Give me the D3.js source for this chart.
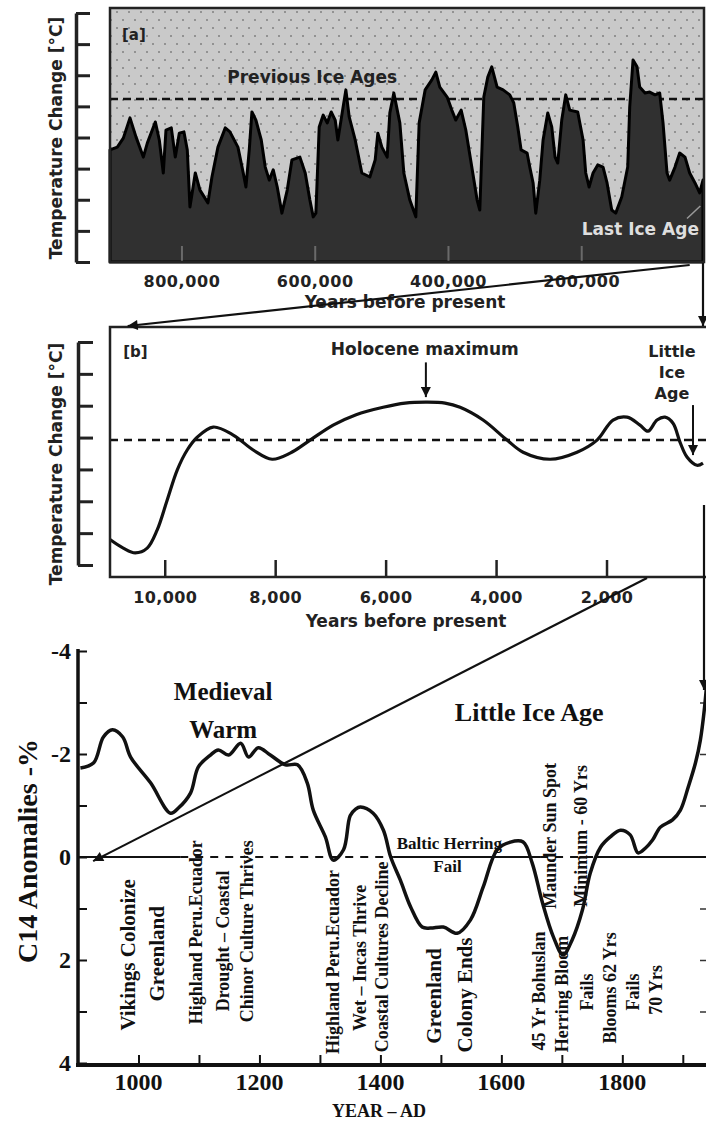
<!doctype html>
<html>
<head>
<meta charset="utf-8">
<title>Temperature history</title>
<script src="https://cdnjs.cloudflare.com/ajax/libs/d3/7.8.5/d3.min.js"></script>
<style>
body { margin: 0; background: #fff; }
svg { display: block; }
.sans { font-family: "DejaVu Sans", Verdana, sans-serif; font-weight: bold; fill: #222; }
.serif { font-family: "Liberation Serif", "Times New Roman", serif; font-weight: bold; fill: #111; }
</style>
</head>
<body>
<svg width="706" height="1123"></svg>
<script>

/* ---- DATA ---- */

// [a] thousands of years before present, temperature in axis tick units
var iceAgeSeries = [[908,3.60],[897,3.69],[888,3.98],[878,4.63],[869,4.02],[858,3.37],[852,3.82],[840,4.50],[834,3.92],[828,2.86],[824,4.24],[816,4.31],[810,3.37],[804,4.14],[797,4.18],[792,3.60],[788,1.77],[780,2.86],[773,2.31],[761,1.90],[755,2.73],[746,3.69],[735,4.31],[728,4.18],[716,3.69],[708,2.86],[704,2.41],[699,3.60],[695,4.82],[689,4.56],[681,3.92],[675,3.05],[669,2.63],[663,2.96],[657,2.41],[650,1.57],[642,2.31],[635,3.28],[623,3.37],[615,2.86],[608,1.99],[603,1.45],[599,1.57],[594,4.34],[588,4.72],[582,4.47],[576,4.82],[570,4.56],[566,3.92],[558,5.00],[554,5.53],[549,4.66],[540,3.92],[530,2.86],[518,2.73],[510,3.28],[506,4.14],[500,3.69],[492,3.37],[488,4.79],[482,5.43],[473,4.47],[467,2.86],[458,1.99],[449,1.45],[444,4.47],[435,5.53],[425,5.85],[419,6.10],[413,5.62],[402,5.30],[395,4.88],[389,4.56],[381,4.88],[374,4.24],[365,3.05],[357,1.99],[353,1.67],[347,5.30],[341,5.94],[335,6.27],[327,5.62],[318,5.53],[308,5.37],[302,5.11],[296,4.34],[291,3.60],[282,3.50],[278,3.05],[273,2.54],[269,1.57],[263,2.63],[258,3.92],[251,4.79],[245,4.34],[240,3.37],[236,3.18],[230,4.56],[224,5.37],[218,4.88],[206,4.82],[198,3.92],[194,2.86],[189,2.41],[183,2.86],[176,3.12],[168,3.05],[162,2.54],[155,1.67],[149,1.57],[140,2.09],[131,3.05],[128,4.98],[123,6.49],[117,6.27],[113,5.62],[105,5.43],[98,5.46],[90,5.37],[83,5.43],[78,4.47],[72,2.86],[68,2.63],[60,3.05],[53,3.50],[45,3.37],[38,2.86],[30,2.54],[23,2.22],[18,2.63]];
var iceAgeRef = 5.24;
var iceAgeTicks = [800, 600, 400, 200];
var iceAgeYTicks = [0, 1, 2, 3, 4, 5, 6, 7, 8];

// [b] years before present, temperature in axis tick units
var holoceneSeries = [[11000,0.80],[10760,0.53],[10543,0.38],[10326,0.53],[10145,1.10],[9964,2.04],[9783,2.98],[9602,3.61],[9421,4.01],[9131,4.33],[8769,4.08],[8407,3.61],[8064,3.32],[7738,3.51],[7376,3.92],[6959,4.39],[6543,4.72],[6054,4.95],[5656,5.08],[5258,5.11],[4932,5.08],[4661,4.95],[4244,4.55],[3810,3.92],[3520,3.54],[3032,3.32],[2543,3.54],[2181,3.92],[1891,4.55],[1638,4.64],[1403,4.39],[1258,4.20],[1095,4.55],[950,4.64],[805,4.45],[679,3.86],[552,3.39],[371,3.13],[262,3.20]];
var holoceneRef = 3.92;
var holoceneTicks = [10000, 8000, 6000, 4000, 2000];
var holoceneYTicks = [0, 1, 2, 3, 4, 5, 6, 7];

// [c] year AD, C14 anomaly in %
var c14Series = [[904,-1.73],[926,-1.83],[942,-2.33],[957,-2.47],[974,-2.33],[987,-1.94],[1020,-1.44],[1053,-0.85],[1066,-0.95],[1086,-1.24],[1099,-1.75],[1119,-1.98],[1132,-2.08],[1149,-1.98],[1169,-2.21],[1182,-1.94],[1198,-2.12],[1218,-1.98],[1243,-1.79],[1263,-1.79],[1279,-1.44],[1289,-0.91],[1309,-0.39],[1322,0.06],[1339,-0.14],[1350,-0.80],[1359,-0.93],[1367,-0.97],[1388,-0.85],[1405,-0.52],[1417,0.00],[1433,0.45],[1450,0.97],[1469,1.36],[1483,1.38],[1504,1.36],[1527,1.48],[1549,1.22],[1570,0.58],[1593,-0.14],[1615,-0.29],[1636,-0.29],[1651,0.12],[1668,0.89],[1686,1.55],[1702,1.90],[1717,1.61],[1734,1.03],[1747,0.31],[1764,-0.19],[1780,-0.39],[1797,-0.52],[1813,-0.43],[1826,-0.08],[1838,-0.17],[1850,-0.33],[1863,-0.58],[1883,-0.72],[1896,-0.91],[1909,-1.36],[1921,-1.83],[1929,-2.27],[1936,-2.91],[1940,-3.44]];
var c14YTicks = [-4, -3, -2, -1, 0, 1, 2, 3, 4];
var c14YLabels = [-4, -2, 0, 2, 4];
var c14XTicks = [1000, 1100, 1200, 1300, 1400, 1500, 1600, 1700, 1800, 1900];
var c14XLabels = [1000, 1200, 1400, 1600, 1800];
var c14RightTicks = [-3, -2, -1, 1, 2, 3];
var zeroDashed = [[1069, 1421], [1664, 1758]];

// vertical event notes, anchored at (year, anomaly) of their centre
var c14NotesLarge = [
  {text: "Vikings Colonize", year: 983, anom: 1.90},
  {text: "Greenland", year: 1031, anom: 1.88},
  {text: "Greenland", year: 1488, anom: 2.70},
  {text: "Colony Ends", year: 1540, anom: 2.68}
];
var c14Notes = [
  {text: "Highland Peru.Ecuador", year: 1096, anom: 1.46},
  {text: "Drought \u2013 Coastal", year: 1139, anom: 1.63},
  {text: "Chinor Culture Thrives", year: 1179, anom: 1.44},
  {text: "Highland Peru.Ecuador", year: 1322, anom: 2.04},
  {text: "Wet \u2013 Incas Thrive", year: 1367, anom: 1.96},
  {text: "Coastal Cultures Decline", year: 1403, anom: 1.94},
  {text: "45 Yr Bohuslan", year: 1663, anom: 2.60},
  {text: "Herring Bloom", year: 1701, anom: 2.66},
  {text: "Maunder Sun Spot", year: 1681, anom: -0.41},
  {text: "Minimum - 60 Yrs", year: 1732, anom: -0.41},
  {text: "Fails", year: 1742, anom: 2.62},
  {text: "Blooms 62 Yrs", year: 1779, anom: 2.54},
  {text: "Fails", year: 1818, anom: 2.62},
  {text: "70 Yrs", year: 1856, anom: 2.58}
];

/* ---- SETUP ---- */

var svg = d3.select("svg");
var defs = svg.append("defs");

var pat = defs.append("pattern").attr("id", "dots")
    .attr("patternUnits", "userSpaceOnUse").attr("width", 12).attr("height", 16);
pat.append("rect").attr("width", 12).attr("height", 16).attr("fill", "#c9c9c9");
pat.append("circle").attr("cx", 3).attr("cy", 4).attr("r", 1).attr("fill", "#808080");
pat.append("circle").attr("cx", 9).attr("cy", 12).attr("r", 1).attr("fill", "#808080");

function marker(id, w, h){
    defs.append("marker").attr("id", id)
        .attr("viewBox", "0 0 10 10").attr("refX", 10).attr("refY", 5)
        .attr("markerWidth", w).attr("markerHeight", h)
        .attr("markerUnits", "userSpaceOnUse").attr("orient", "auto")
        .append("path").attr("d", "M0,0L10,5L0,10z").attr("fill", "#111");
}
marker("arrBig", 16, 10);
marker("arrSmall", 11, 10);

function bracketAxis(g){
    g.selectAll("line").attr("stroke", "#222").attr("stroke-width", 3);
    g.select(".domain").attr("stroke", "#222").attr("stroke-width", 3.5);
}

/* ---- PANEL A ---- */

var ax = d3.scaleLinear().domain([908, 18]).range([110, 703]);
var ay = d3.scaleLinear().domain([0, 8]).range([262, 13]);
var gA = svg.append("g");

gA.append("rect").attr("x", 110).attr("y", 8).attr("width", 594).attr("height", 254)
    .attr("fill", "url(#dots)");

gA.append("line")
    .attr("x1", 110).attr("x2", 704).attr("y1", ay(iceAgeRef)).attr("y2", ay(iceAgeRef))
    .attr("stroke", "#111").attr("stroke-width", 2.5).attr("stroke-dasharray", "8,5");

gA.append("path").datum(iceAgeSeries)
    .attr("d", d3.area().x(d => ax(d[0])).y0(ay(0)).y1(d => ay(d[1])))
    .attr("fill", "#303030").attr("stroke", "#000").attr("stroke-width", 3)
    .attr("stroke-linejoin", "round");

gA.selectAll(".tk").data(iceAgeTicks).enter().append("line")
    .attr("x1", d => ax(d)).attr("x2", d => ax(d)).attr("y1", 246).attr("y2", 262)
    .attr("stroke", "#6a6a6a").attr("stroke-width", 2);

gA.append("rect").attr("x", 110).attr("y", 8).attr("width", 594).attr("height", 254)
    .attr("fill", "none").attr("stroke", "#222").attr("stroke-width", 2.5);

gA.selectAll(".tl").data(iceAgeTicks).enter().append("text")
    .attr("class", "sans").attr("font-size", 16).attr("text-anchor", "middle")
    .attr("letter-spacing", 0.6)
    .attr("x", d => ax(d)).attr("y", 287).text(d => d3.format(",")(d * 1000));

gA.append("text").attr("class", "sans").attr("font-size", 17).attr("text-anchor", "middle")
    .attr("x", 405).attr("y", 308).text("Years before present");

gA.append("g").attr("transform", "translate(76,0)")
    .call(d3.axisRight(ay).tickValues(iceAgeYTicks).tickSize(14).tickSizeOuter(0).tickFormat(""))
    .call(bracketAxis);

gA.append("text").attr("class", "sans").attr("font-size", 17).attr("text-anchor", "middle")
    .attr("transform", "translate(62,138) rotate(-90)").text("Temperature Change [\u00b0C]");

gA.append("text").attr("class", "sans").attr("font-size", 15)
    .attr("x", ax(890)).attr("y", ay(7.13)).text("[a]");
gA.append("text").attr("class", "sans").attr("font-size", 17)
    .attr("x", ax(732)).attr("y", ay(5.75)).text("Previous Ice Ages");
gA.append("text").attr("class", "sans").attr("font-size", 17).style("fill", "#dedede")
    .attr("x", ax(200)).attr("y", ay(0.87)).text("Last Ice Age");
gA.append("line").attr("x1", ax(42)).attr("y1", ay(1.4)).attr("x2", ax(22)).attr("y2", ay(1.8))
    .attr("stroke", "#999").attr("stroke-width", 1.5);

/* ---- PANEL B ---- */

var bx = d3.scaleLinear().domain([11000, 262]).range([110, 703]);
var by = d3.scaleLinear().domain([0, 7]).range([565, 342]);
var gB = svg.append("g");

gB.append("line")
    .attr("x1", 110).attr("x2", 706).attr("y1", by(holoceneRef)).attr("y2", by(holoceneRef))
    .attr("stroke", "#111").attr("stroke-width", 2.5).attr("stroke-dasharray", "8,6");

gB.append("path").datum(holoceneSeries)
    .attr("d", d3.line().x(d => bx(d[0])).y(d => by(d[1])).curve(d3.curveCatmullRom))
    .attr("fill", "none").attr("stroke", "#111").attr("stroke-width", 3.2);

gB.append("path").attr("d", "M708,327H110V577H708")
    .attr("fill", "none").attr("stroke", "#222").attr("stroke-width", 2.5);

gB.selectAll(".tk").data(holoceneTicks).enter().append("line")
    .attr("x1", d => bx(d)).attr("x2", d => bx(d)).attr("y1", 560).attr("y2", 577)
    .attr("stroke", "#222").attr("stroke-width", 2.5);

gB.selectAll(".tl").data(holoceneTicks).enter().append("text")
    .attr("class", "sans").attr("font-size", 16).attr("text-anchor", "middle")
    .attr("letter-spacing", 0.4)
    .attr("x", d => bx(d)).attr("y", 603).text(d => d3.format(",")(d));

gB.append("text").attr("class", "sans").attr("font-size", 17).attr("text-anchor", "middle")
    .attr("x", 406).attr("y", 627).text("Years before present");

gB.append("g").attr("transform", "translate(78,0)")
    .call(d3.axisRight(by).tickValues(holoceneYTicks).tickSize(15).tickSizeOuter(0).tickFormat(""))
    .call(bracketAxis);

gB.append("text").attr("class", "sans").attr("font-size", 17).attr("text-anchor", "middle")
    .attr("transform", "translate(62,464) rotate(-90)").text("Temperature Change [\u00b0C]");

gB.append("text").attr("class", "sans").attr("font-size", 15)
    .attr("x", bx(10760)).attr("y", by(6.52)).text("[b]");
gB.append("text").attr("class", "sans").attr("font-size", 17).attr("text-anchor", "middle")
    .attr("x", bx(5300)).attr("y", by(6.58)).text("Holocene maximum");
gB.append("line").attr("x1", bx(5280)).attr("x2", bx(5280)).attr("y1", by(6.36)).attr("y2", by(5.27))
    .attr("stroke", "#111").attr("stroke-width", 2).attr("marker-end", "url(#arrSmall)");
gB.selectAll(".lia").data(["Little", "Ice", "Age"]).enter().append("text")
    .attr("class", "sans").attr("font-size", 16).attr("text-anchor", "middle")
    .attr("x", bx(824)).attr("y", (d, i) => by(6.52) + i * 21).text(d => d);
gB.append("line").attr("x1", bx(443)).attr("x2", bx(443)).attr("y1", by(5.02)).attr("y2", by(3.45))
    .attr("stroke", "#111").attr("stroke-width", 2).attr("marker-end", "url(#arrSmall)");

/* ---- PANEL C ---- */

var cx = d3.scaleLinear().domain([900, 1940]).range([78, 707]);
var cy = d3.scaleLinear().domain([-4, 4]).range([651, 1063]);
var gC = svg.append("g");

// zero line: solid with dashed stretches
gC.append("line").attr("x1", 78).attr("x2", 706).attr("y1", cy(0)).attr("y2", cy(0))
    .attr("stroke", "#111").attr("stroke-width", 2);
gC.selectAll(".zd").data(zeroDashed).enter().append("line")
    .attr("x1", d => cx(d[0])).attr("x2", d => cx(d[1])).attr("y1", cy(0)).attr("y2", cy(0))
    .attr("stroke", "#fff").attr("stroke-width", 4);
gC.selectAll(".zd2").data(zeroDashed).enter().append("line")
    .attr("x1", d => cx(d[0])).attr("x2", d => cx(d[1])).attr("y1", cy(0)).attr("y2", cy(0))
    .attr("stroke", "#111").attr("stroke-width", 2).attr("stroke-dasharray", "8,7");

gC.append("g").attr("transform", "translate(78,0)")
    .call(d3.axisRight(cy).tickValues(c14YTicks).tickSize(9).tickSizeOuter(0).tickFormat(""))
    .call(g => g.select(".domain").remove())
    .call(g => g.selectAll("line").attr("stroke", "#111").attr("stroke-width", 2));

gC.append("g").attr("transform", "translate(0,1065)")
    .call(d3.axisTop(cx).tickValues(c14XTicks).tickSize(10).tickSizeOuter(0).tickFormat(""))
    .call(g => g.select(".domain").remove())
    .call(g => g.selectAll("line").attr("stroke", "#111").attr("stroke-width", 2));

gC.append("g").attr("transform", "translate(706,0)")
    .call(d3.axisLeft(cy).tickValues(c14RightTicks).tickSize(6).tickSizeOuter(0).tickFormat(""))
    .call(g => g.select(".domain").remove())
    .call(g => g.selectAll("line").attr("stroke", "#333").attr("stroke-width", 1.5));

gC.append("line").attr("x1", 78).attr("x2", 78).attr("y1", 649).attr("y2", 1067)
    .attr("stroke", "#111").attr("stroke-width", 3.5);
gC.append("line").attr("x1", 76).attr("x2", 706).attr("y1", 1065).attr("y2", 1065)
    .attr("stroke", "#111").attr("stroke-width", 4);

gC.selectAll(".yl").data(c14YLabels).enter().append("text")
    .attr("class", "serif").attr("font-size", 24).attr("text-anchor", "end")
    .attr("x", 71).attr("y", d => cy(d)).attr("dy", "0.35em").text(d => d);

gC.selectAll(".xl").data(c14XLabels).enter().append("text")
    .attr("class", "serif").attr("font-size", 24).attr("text-anchor", "middle")
    .attr("x", d => cx(d)).attr("y", 1090).text(d => d);

gC.append("text").attr("class", "serif").attr("font-size", 18).attr("text-anchor", "middle")
    .attr("x", 379).attr("y", 1117).text("YEAR \u2013 AD");

gC.append("text").attr("class", "serif").attr("font-size", 28).attr("text-anchor", "middle")
    .attr("transform", "translate(37,851) rotate(-90)").text("C14 Anomalies -%");

gC.append("text").attr("class", "serif").attr("font-size", 25).attr("text-anchor", "middle")
    .attr("x", cx(1140)).attr("y", cy(-3.05)).text("Medieval");
gC.append("text").attr("class", "serif").attr("font-size", 25).attr("text-anchor", "middle")
    .attr("x", cx(1140)).attr("y", cy(-2.32)).text("Warm");
gC.append("text").attr("class", "serif").attr("font-size", 26).attr("text-anchor", "middle")
    .attr("x", cx(1646)).attr("y", cy(-2.65)).text("Little Ice Age");

gC.append("text").attr("class", "serif").attr("font-size", 17).attr("text-anchor", "middle")
    .attr("x", cx(1514)).attr("y", cy(-0.16)).text("Baltic Herring");
gC.append("text").attr("class", "serif").attr("font-size", 17).attr("text-anchor", "middle")
    .attr("x", cx(1511)).attr("y", cy(0.29)).text("Fail");

function notes(list, size){
    gC.selectAll(null).data(list).enter().append("text")
        .attr("class", "serif").attr("font-size", size).attr("text-anchor", "middle")
        .attr("dy", "0.33em")
        .attr("transform", d => "translate(" + cx(d.year) + "," + cy(d.anom) + ") rotate(-90)")
        .text(d => d.text);
}
notes(c14NotesLarge, 21);
notes(c14Notes, 18);

gC.append("path").datum(c14Series)
    .attr("d", d3.line().x(d => cx(d[0])).y(d => cy(d[1])).curve(d3.curveCatmullRom))
    .attr("fill", "none").attr("stroke", "#111").attr("stroke-width", 3.5)
    .attr("stroke-linejoin", "round");

/* ---- LINKS BETWEEN PANELS ---- */

var links = svg.append("g").attr("stroke", "#111").attr("stroke-width", 2.2).attr("fill", "none");
links.append("line").attr("x1", ax(38)).attr("y1", 265).attr("x2", bx(10680)).attr("y2", 326)
    .attr("marker-end", "url(#arrBig)");
links.append("line").attr("x1", 703).attr("y1", 263).attr("x2", 703).attr("y2", 326)
    .attr("marker-end", "url(#arrSmall)");
links.append("line").attr("x1", bx(1276)).attr("y1", 578).attr("x2", cx(925)).attr("y2", cy(0.08))
    .attr("marker-end", "url(#arrBig)");
links.append("line").attr("x1", 704).attr("y1", 505).attr("x2", 704).attr("y2", 690)
    .attr("marker-end", "url(#arrSmall)");

</script>
</body>
</html>
